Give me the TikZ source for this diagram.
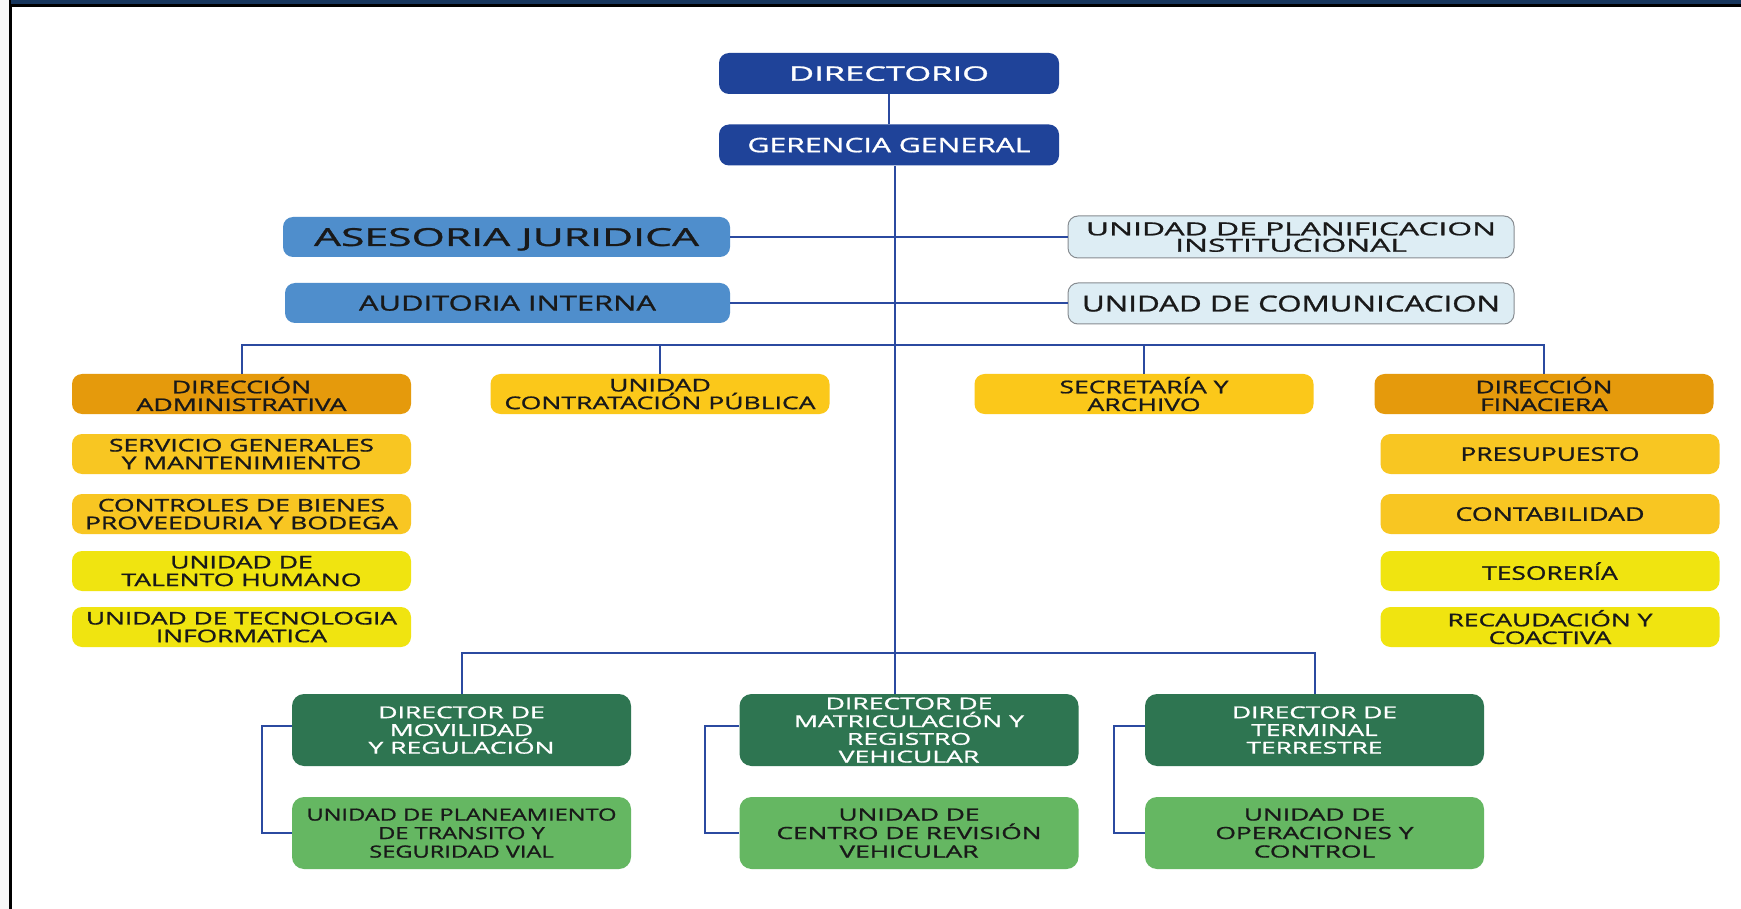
\documentclass[tikz,border=0pt]{standalone}
\usepackage{fontspec}
\setmainfont{Open Sans}[FakeBold=1]
\usepackage{graphicx}
\usetikzlibrary{calc}
\definecolor{navy}{RGB}{31,67,153}
\definecolor{barnavy}{RGB}{23,54,93}
\definecolor{lblue}{RGB}{79,142,204}
\definecolor{pale}{RGB}{221,237,244}
\definecolor{paleborder}{RGB}{135,140,145}
\definecolor{orng}{RGB}{229,154,12}
\definecolor{gold}{RGB}{251,200,26}
\definecolor{gold2}{RGB}{248,198,34}
\definecolor{yell}{RGB}{240,228,16}
\definecolor{dkgreen}{RGB}{46,117,81}
\definecolor{ltgreen}{RGB}{101,183,98}
\definecolor{lncol}{RGB}{43,74,160}
\definecolor{txt}{RGB}{25,25,25}
\newcommand\tb[2]{\resizebox{#1pt}{\height}{\vbox{\lineskiplimit=-20pt\let\\\cr\halign{\hfil##\hfil\cr#2\crcr}}}}
\begin{document}
\begin{tikzpicture}[x=0.5pt,y=-0.5pt,
  bx/.style={rounded corners=5pt, inner sep=0pt, text depth=0pt, minimum width=169.5pt, minimum height=20pt},
  navybox/.style={bx, fill=navy, text=white, minimum width=170pt, minimum height=20.5pt, font=\fontsize{10}{10}\selectfont},
  bluebox/.style={bx, fill=lblue, text=txt},
  palebox/.style={bx, fill=pale, draw=paleborder, line width=0.5pt, text=txt, minimum width=223pt},
  orbox/.style={bx, fill=orng, text=txt, font=\fontsize{8.75}{8.85}\selectfont},
  goldbox/.style={bx, fill=gold, text=txt, font=\fontsize{8.75}{8.85}\selectfont},
  gold2box/.style={bx, fill=gold2, text=txt, font=\fontsize{8.75}{8.85}\selectfont},
  yellbox/.style={bx, fill=yell, text=txt, font=\fontsize{8.75}{8.85}\selectfont},
  dgbox/.style={bx, rounded corners=6pt, fill=dkgreen, text=white, minimum height=36pt, font=\fontsize{8.2}{8.85}\selectfont},
  lgbox/.style={bx, rounded corners=6pt, fill=ltgreen, text=txt, minimum height=36pt, font=\fontsize{8.4}{9.25}\selectfont},
  ln/.style={draw=lncol, line width=1pt}
]
\useasboundingbox (0,0) rectangle (1741,909);
\fill[white] (0,0) rectangle (1741,909);
\fill[black!3] (0,0) rectangle (9,909);
\fill[black] (9,0) rectangle (12,909);
\fill[barnavy] (11,0) rectangle (1741,4);
\fill[black] (9,4) rectangle (1741,7);

% top
\node[navybox] (dir) at (889,73.5) {\tb{100}{DIRECTORIO}};
\node[navybox] (ger) at (889,145) {\tb{141.5}{GERENCIA GENERAL}};
\node[bluebox, minimum width=223.5pt, font=\fontsize{12.4}{12}\selectfont] (ase) at (506.5,237) {\tb{192.5}{ASESORIA JURIDICA}};
\node[bluebox, minimum width=222.5pt, font=\fontsize{10.5}{11}\selectfont] (aud) at (507.5,303) {\tb{148.5}{AUDITORIA INTERNA}};
\node[palebox, minimum height=21pt, font=\fontsize{9}{8.2}\selectfont] (pla) at (1291,237) {\tb{205}{UNIDAD DE PLANIFICACION\\INSTITUCIONAL}};
\node[palebox, minimum height=20.5pt, font=\fontsize{11}{11}\selectfont] (com) at (1291,303.5) {\tb{209}{UNIDAD DE COMUNICACION}};

% row 1
\node[orbox] (dadm) at (241.5,394) {\tb{105}{DIRECCIÓN\\ADMINISTRATIVA}};
\node[goldbox] (ucp) at (660,394) {\tb{155.5}{UNIDAD\\CONTRATACIÓN PÚBLICA}};
\node[goldbox] (sec) at (1144,394) {\tb{84.5}{SECRETARÍA Y\\ARCHIVO}};
\node[orbox] (dfin) at (1544,394) {\tb{68.5}{DIRECCIÓN\\FINACIERA}};

% left column
\node[gold2box] (serv) at (241.5,454) {\tb{132.5}{SERVICIO GENERALES\\Y MANTENIMIENTO}};
\node[gold2box] (ctrl) at (241.5,514) {\tb{156.5}{CONTROLES DE BIENES\\PROVEEDURIA Y BODEGA}};
\node[yellbox] (tal) at (241.5,571) {\tb{120}{UNIDAD DE\\TALENTO HUMANO}};
\node[yellbox] (tec) at (241.5,627) {\tb{155.5}{UNIDAD DE TECNOLOGIA\\INFORMATICA}};

% right column
\node[gold2box, font=\fontsize{9.4}{9.4}\selectfont] (pre) at (1550,454) {\tb{89.5}{PRESUPUESTO}};
\node[gold2box, font=\fontsize{9.4}{9.4}\selectfont] (con) at (1550,514) {\tb{94.5}{CONTABILIDAD}};
\node[yellbox, font=\fontsize{9.4}{9.4}\selectfont] (tes) at (1550,571) {\tb{67.75}{TESORERÍA}};
\node[yellbox] (rec) at (1550,627) {\tb{102.5}{RECAUDACIÓN Y\\COACTIVA}};

% green
\node[dgbox] (mov) at (461.5,730) {\tb{93}{DIRECTOR DE\\MOVILIDAD\\Y REGULACIÓN}};
\node[dgbox] (mat) at (909,730) {\tb{115}{DIRECTOR DE\\MATRICULACIÓN Y\\REGISTRO\\VEHICULAR}};
\node[dgbox] (ter) at (1314.5,730) {\tb{82.5}{DIRECTOR DE\\TERMINAL\\TERRESTRE}};
\node[lgbox] (upl) at (461.5,833) {\tb{155}{UNIDAD DE PLANEAMIENTO\\DE TRANSITO Y\\SEGURIDAD VIAL}};
\node[lgbox] (ucr) at (909,833) {\tb{132.5}{UNIDAD DE\\CENTRO DE REVISIÓN\\VEHICULAR}};
\node[lgbox] (uop) at (1314.5,833) {\tb{99}{UNIDAD DE\\OPERACIONES Y\\CONTROL}};

% connectors
\draw[ln] (dir.south) -- (ger.north);
\coordinate (tk) at ($(ger.south)+(6,0)$);
\draw[ln] (tk) -- (tk |- mat.north);
\draw[ln] (ase.east) -- (pla.west);
\draw[ln] (aud.east) -- (aud.east -| com.west);
\coordinate (busL) at ($(dadm.north)+(0,-29)$);
\draw[ln] (dadm.north) -- (busL) -- (busL -| dfin.north) -- (dfin.north);
\draw[ln] (ucp.north) -- (ucp.north |- busL);
\draw[ln] (sec.north) -- (sec.north |- busL);
\coordinate (busB) at ($(mov.north)+(0,-41)$);
\draw[ln] (mov.north) -- (busB) -- (busB -| ter.north) -- (ter.north);
\draw[ln] ($(mov.west)+(0,-4)$) -- ++(-30,0) |- (upl.west);
\draw[ln] ($(mat.west)+(0,-4)$) -- ++(-34,0) |- (ucr.west);
\draw[ln] ($(ter.west)+(0,-4)$) -- ++(-31,0) |- (uop.west);
\end{tikzpicture}
\end{document}
